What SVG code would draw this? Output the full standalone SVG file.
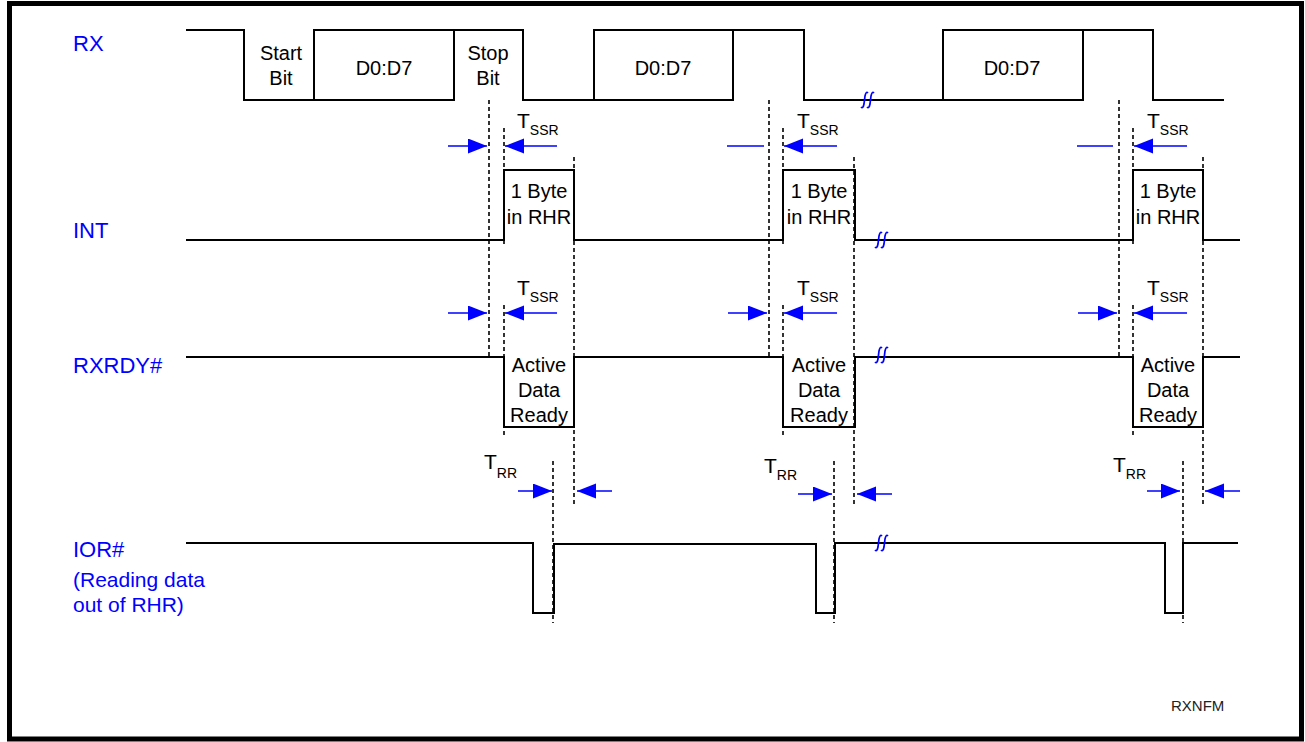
<svg xmlns="http://www.w3.org/2000/svg" width="1305" height="742" viewBox="0 0 1305 742">
<style>
text{font-family:"Liberation Sans",Arial,sans-serif;}
.lbl{font-size:22px;fill:#0000ff;}
.in{font-size:20px;fill:#000;text-anchor:middle;}
.t{font-size:21px;fill:#000;}
.sub{font-size:14px;}
.wave{fill:none;stroke:#000;stroke-width:2;}
.dash{fill:none;stroke:#000;stroke-width:1.6;stroke-dasharray:4 3;}
.arr{fill:none;stroke:#0000ff;stroke-width:1.5;}
.ah{marker-end:url(#head);}
.brk{fill:none;stroke:#0000ff;stroke-width:1.7;}
</style>
<defs>
<marker id="head" markerUnits="userSpaceOnUse" markerWidth="20" markerHeight="16" refX="19" refY="7.5" orient="auto">
<path d="M0,0 L19,7.5 L0,15 Z" fill="#0000ff"/>
</marker>
<path id="brk" class="brk" d="M-6,7 Q-4,9 -3,4 L-2,-4 Q-1,-9 1,-7 M0,7 Q2,9 3,4 L4,-4 Q5,-9 7,-7"/>
</defs>
<rect x="9.5" y="3.5" width="1292" height="735.5" fill="#fff" stroke="#000" stroke-width="5"/>

<g id="labels">
<text class="lbl" x="73" y="51">RX</text>
<text class="lbl" x="73" y="238">INT</text>
<text class="lbl" x="73" y="373">RXRDY#</text>
<text class="lbl" x="73" y="557">IOR#</text>
<text class="lbl" x="73" y="587" style="font-size:21px">(Reading data</text>
<text class="lbl" x="73" y="612" style="font-size:21px">out of RHR)</text>
<text x="1171" y="711" style="font-size:15px;fill:#222">RXNFM</text>
</g>

<g id="rx">
<path class="wave" d="M186,30 H244 V100 H314 V30 H523 V100 H594 V30 H804 V100 H943 V30 H1153 V100 H1224"/>
<path class="wave" d="M314,100 H454 V30 M594,100 H733 V30 M943,100 H1083 V30"/>
<text class="in" x="281" y="60">Start</text>
<text class="in" x="281" y="85">Bit</text>
<text class="in" x="384" y="75">D0:D7</text>
<text class="in" x="488" y="60">Stop</text>
<text class="in" x="488" y="85">Bit</text>
<text class="in" x="663" y="75">D0:D7</text>
<text class="in" x="1012" y="75">D0:D7</text>
</g>

<g id="int">
<path class="wave" d="M186,240 H504 V170 H574 V240 H783 V170 H855 V240 H1133 V170 H1203 V240 H1240"/>
<text class="in" x="539" y="198">1 Byte</text>
<text class="in" x="539" y="224">in RHR</text>
<text class="in" x="819" y="198">1 Byte</text>
<text class="in" x="819" y="224">in RHR</text>
<text class="in" x="1168" y="198">1 Byte</text>
<text class="in" x="1168" y="224">in RHR</text>
</g>

<g id="rxrdy">
<path class="wave" d="M186,357 H504 V427 H574 V357 H783 V427 H855 V357 H1133 V427 H1203 V357 H1240"/>
<text class="in" x="539" y="372">Active</text>
<text class="in" x="539" y="397">Data</text>
<text class="in" x="539" y="422">Ready</text>
<text class="in" x="819" y="372">Active</text>
<text class="in" x="819" y="397">Data</text>
<text class="in" x="819" y="422">Ready</text>
<text class="in" x="1168" y="372">Active</text>
<text class="in" x="1168" y="397">Data</text>
<text class="in" x="1168" y="422">Ready</text>
</g>

<g id="ior">
<path class="wave" d="M186,543 H533 V613 H554 V544 H816 V613 H835 V543 H1165 V613 H1183 V543 H1238"/>
</g>

<g id="breaks">
<use href="#brk" x="867" y="100"/>
<use href="#brk" x="881" y="240"/>
<use href="#brk" x="881" y="355"/>
<use href="#brk" x="881" y="543"/>
</g>

<g id="connectors">
<path class="dash" d="M489,100 V357 M504,128 V247 M504,305 V437 M574,157 V506 M553,461 V623"/>
<path class="dash" d="M769,100 V357 M783,128 V247 M783,305 V437 M854,157 V506 M834,461 V623"/>
<path class="dash" d="M1119,100 V357 M1133,128 V247 M1133,305 V437 M1203,157 V506 M1183,461 V623"/>

<line class="arr ah" x1="448" y1="146" x2="487" y2="146"/>
<line class="arr ah" x1="557" y1="146" x2="505" y2="146"/>
<line class="arr" x1="727" y1="146" x2="764" y2="146"/>
<line class="arr ah" x1="837" y1="146" x2="784" y2="146"/>
<line class="arr" x1="1077" y1="146" x2="1113" y2="146"/>
<line class="arr ah" x1="1187" y1="146" x2="1134" y2="146"/>

<line class="arr ah" x1="448" y1="313" x2="487" y2="313"/>
<line class="arr ah" x1="557" y1="313" x2="505" y2="313"/>
<line class="arr ah" x1="728" y1="313" x2="767" y2="313"/>
<line class="arr ah" x1="837" y1="313" x2="784" y2="313"/>
<line class="arr ah" x1="1078" y1="313" x2="1117" y2="313"/>
<line class="arr ah" x1="1187" y1="313" x2="1134" y2="313"/>

<line class="arr ah" x1="518" y1="491" x2="552" y2="491"/>
<line class="arr ah" x1="612" y1="491" x2="577" y2="491"/>
<line class="arr ah" x1="798" y1="494" x2="832" y2="494"/>
<line class="arr ah" x1="892" y1="494" x2="857" y2="494"/>
<line class="arr ah" x1="1147" y1="491" x2="1180" y2="491"/>
<line class="arr ah" x1="1240" y1="491" x2="1205" y2="491"/>
</g>

<g id="timing-labels">
<text class="t" x="517" y="128">T<tspan class="sub" dy="7">SSR</tspan></text>
<text class="t" x="797" y="128">T<tspan class="sub" dy="7">SSR</tspan></text>
<text class="t" x="1147" y="128">T<tspan class="sub" dy="7">SSR</tspan></text>
<text class="t" x="517" y="295">T<tspan class="sub" dy="7">SSR</tspan></text>
<text class="t" x="797" y="295">T<tspan class="sub" dy="7">SSR</tspan></text>
<text class="t" x="1147" y="295">T<tspan class="sub" dy="7">SSR</tspan></text>
<text class="t" x="484" y="469">T<tspan class="sub" dy="9">RR</tspan></text>
<text class="t" x="764" y="473">T<tspan class="sub" dy="7">RR</tspan></text>
<text class="t" x="1113" y="472">T<tspan class="sub" dy="7">RR</tspan></text>
</g>
</svg>
